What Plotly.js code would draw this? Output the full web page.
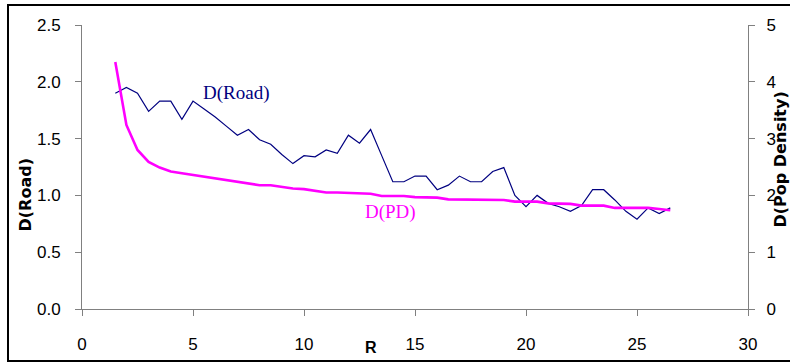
<!DOCTYPE html>
<html>
<head>
<meta charset="utf-8">
<script src="https://cdn.plot.ly/plotly-3.0.1.min.js"></script>
<style>
  html, body { margin: 0; padding: 0; background: #fff; }
  #chart { width: 790px; height: 364px; }
</style>
</head>
<body>
<div id="chart"></div>
<script>
// Radius R, sampled every 0.5
const radius = [
  1.5, 2.0, 2.5, 3.0, 3.5, 4.0, 4.5, 5.0, 5.5, 6.0,
  6.5, 7.0, 7.5, 8.0, 8.5, 9.0, 9.5, 10.0, 10.5, 11.0,
  11.5, 12.0, 12.5, 13.0, 13.5, 14.0, 14.5, 15.0, 15.5, 16.0,
  16.5, 17.0, 17.5, 18.0, 18.5, 19.0, 19.5, 20.0, 20.5, 21.0,
  21.5, 22.0, 22.5, 23.0, 23.5, 24.0, 24.5, 25.0, 25.5, 26.0, 26.5
];

// Fractal dimension of the road network (left axis)
const dRoad = [
  1.90, 1.95, 1.90, 1.74, 1.83, 1.83, 1.67, 1.83, 1.76, 1.69,
  1.61, 1.53, 1.58, 1.49, 1.45, 1.36, 1.28, 1.35, 1.34, 1.40,
  1.37, 1.53, 1.46, 1.58, 1.35, 1.12, 1.12, 1.17, 1.17, 1.05,
  1.09, 1.17, 1.12, 1.12, 1.21, 1.245, 1.00, 0.90, 1.00, 0.93,
  0.90, 0.86, 0.91, 1.05, 1.05, 0.96, 0.86, 0.79, 0.89, 0.84, 0.89
];

// Fractal dimension of population density (right axis)
const dPop = [
  4.35, 3.24, 2.80, 2.59, 2.49, 2.42, 2.39, 2.36, 2.33, 2.30,
  2.27, 2.24, 2.21, 2.18, 2.18, 2.15, 2.12, 2.11, 2.08, 2.05,
  2.05, 2.04, 2.03, 2.03, 1.99, 1.99, 1.99, 1.97, 1.96, 1.96,
  1.93, 1.93, 1.93, 1.93, 1.92, 1.92, 1.89, 1.89, 1.89, 1.86,
  1.86, 1.85, 1.82, 1.82, 1.82, 1.78, 1.78, 1.78, 1.78, 1.76, 1.74
];

const xTicks = [0, 5, 10, 15, 20, 25, 30];
const leftTicks = [0.0, 0.5, 1.0, 1.5, 2.0, 2.5];
const rightTicks = [0, 1, 2, 3, 4, 5];

const axisGrey = '#808080';
const tickFont = { family: 'Liberation Sans, Arial, sans-serif', size: 17, color: '#000' };

// plot-area geometry in pixels, used to place free text in paper units
const W = 790, H = 364, L = 82, R = 42, T = 25, B = 55;
const pw = W - L - R, ph = H - T - B;
const px = v => (v - L) / pw;
const py = v => (H - B - v) / ph;

const traces = [
  {
    x: radius, y: dRoad, type: 'scatter', mode: 'lines', name: 'D(Road)',
    line: { color: '#000080', width: 1.2 }, yaxis: 'y'
  },
  {
    x: radius, y: dPop, type: 'scatter', mode: 'lines', name: 'D(PD)',
    line: { color: '#FF00FF', width: 2.6 }, yaxis: 'y2'
  }
];

const layout = {
  width: W, height: H,
  margin: { l: L, r: R, t: T, b: B, pad: 0 },
  paper_bgcolor: '#fff', plot_bgcolor: '#fff',
  showlegend: false,
  xaxis: {
    range: [0, 30], tickvals: xTicks, ticktext: xTicks.map(String),
    showline: true, linecolor: axisGrey, linewidth: 1,
    ticks: 'outside', ticklen: 6, tickcolor: axisGrey, tickwidth: 1,
    showgrid: false, zeroline: false, tickfont: tickFont,
    ticklabelstandoff: 14
  },
  yaxis: {
    range: [0, 2.5], tickvals: leftTicks, ticktext: leftTicks.map(v => v.toFixed(1)),
    showline: true, linecolor: axisGrey, linewidth: 1,
    ticks: 'outside', ticklen: 6, tickcolor: axisGrey, tickwidth: 1,
    showgrid: false, zeroline: false, tickfont: tickFont,
    ticklabelstandoff: 11
  },
  yaxis2: {
    range: [0, 5], tickvals: rightTicks, ticktext: rightTicks.map(String),
    overlaying: 'y', side: 'right', anchor: 'x',
    showline: true, linecolor: axisGrey, linewidth: 1,
    ticks: 'outside', ticklen: 6, tickcolor: axisGrey, tickwidth: 1,
    showgrid: false, zeroline: false, tickfont: tickFont,
    ticklabelstandoff: 8
  },
  // inner half of the right-axis cross ticks
  yaxis3: {
    range: [0, 5], tickvals: rightTicks, showticklabels: false,
    overlaying: 'y', side: 'right', anchor: 'x',
    showline: false, ticks: 'inside', ticklen: 6, tickcolor: axisGrey, tickwidth: 1,
    showgrid: false, zeroline: false
  },
  shapes: [
    {
      type: 'rect', xref: 'paper', yref: 'paper',
      x0: px(8), x1: px(800), y0: py(361), y1: py(5),
      line: { color: '#000', width: 2 }, fillcolor: 'rgba(0,0,0,0)'
    }
  ],
  annotations: [
    {
      text: 'D(Road)', xref: 'paper', yref: 'paper', x: px(24.5), y: py(195),
      textangle: -90, showarrow: false, xanchor: 'center', yanchor: 'middle',
      font: { family: 'DejaVu Sans, sans-serif', size: 16, color: '#000', weight: 'bold' }
    },
    {
      text: 'D(Pop Density)', xref: 'paper', yref: 'paper', x: px(779.5), y: py(160),
      textangle: -90, showarrow: false, xanchor: 'center', yanchor: 'middle',
      font: { family: 'DejaVu Sans, sans-serif', size: 16, color: '#000', weight: 'bold' }
    },
    {
      text: 'R', xref: 'paper', yref: 'paper', x: px(371), y: py(347),
      showarrow: false, xanchor: 'center', yanchor: 'middle',
      font: { family: 'Liberation Sans, Arial, sans-serif', size: 16, color: '#000', weight: 'bold' }
    },
    {
      text: 'D(Road)', xref: 'paper', yref: 'paper', x: px(236), y: py(93),
      showarrow: false, xanchor: 'center', yanchor: 'middle',
      font: { family: 'Liberation Serif, Times New Roman, serif', size: 19, color: '#000080' }
    },
    {
      text: 'D(PD)', xref: 'paper', yref: 'paper', x: px(390), y: py(212),
      showarrow: false, xanchor: 'center', yanchor: 'middle',
      font: { family: 'Liberation Serif, Times New Roman, serif', size: 19, color: '#FF00FF' }
    }
  ]
};

Plotly.newPlot('chart', traces, layout, { staticPlot: true, displayModeBar: false });
</script>
</body>
</html>
